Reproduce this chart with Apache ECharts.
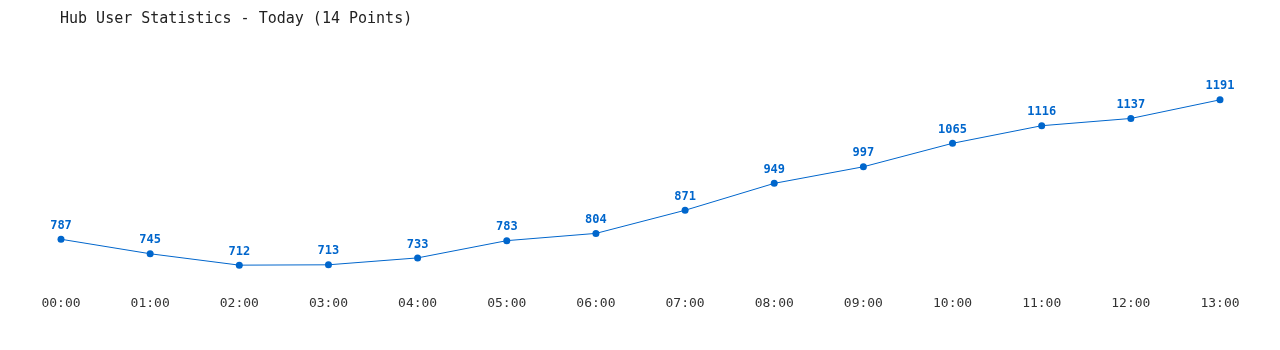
<!DOCTYPE html>
<html><head><meta charset="utf-8">
<script src="https://cdn.jsdelivr.net/npm/echarts@6/dist/echarts.min.js"></script>
<style>html,body{margin:0;padding:0;background:#fff}#c{width:1280px;height:350px}</style>
</head><body><div id="c"></div>
<script>
const categories = ['00:00','01:00','02:00','03:00','04:00','05:00','06:00','07:00','08:00','09:00','10:00','11:00','12:00','13:00'];
const users = [787,745,712,713,733,783,804,871,949,997,1065,1116,1137,1191];
const titleText = 'Hub User Statistics - Today (14 Points)';
const chart = echarts.init(document.getElementById('c'));
const mono = '"DejaVu Sans Mono", "Liberation Mono", monospace';
chart.setOption({
  animation: false,
  title: { text: titleText, left: 55, top: 7, textStyle: { fontFamily: mono, fontSize: 15, fontWeight: 'normal', color: '#222' } },
  grid: { left: 61, right: 60, top: 76, bottom: 60 },
  xAxis: { type: 'category', data: categories, boundaryGap: false,
    axisLine: { show: false }, axisTick: { show: false }, splitLine: { show: false },
    axisLabel: { margin: 7, fontFamily: mono, fontSize: 13, color: '#333', interval: 0 } },
  yAxis: { type: 'value', min: 640, max: 1260, show: false, splitLine: { show: false } },
  series: [{ type: 'line', data: users, symbol: 'circle', symbolSize: 7,
    lineStyle: { color: '#0066cc', width: 1 }, itemStyle: { color: '#0066cc' },
    label: { show: true, position: 'top', distance: 4, fontFamily: mono, fontSize: 12, fontWeight: 'bold', color: '#0066cc' } }]
});
</script></body></html>
